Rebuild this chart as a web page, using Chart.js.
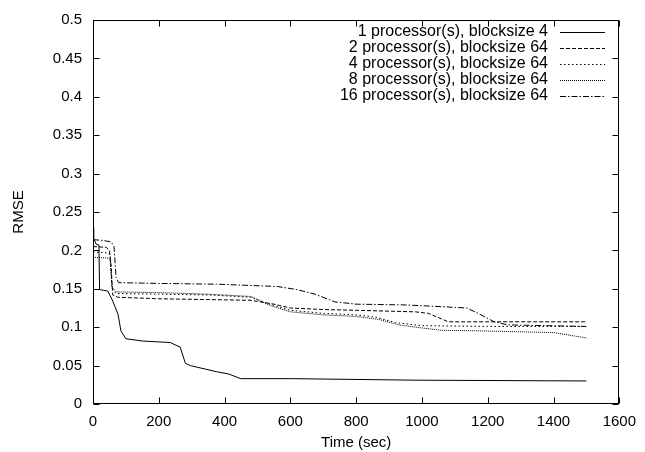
<!DOCTYPE html>
<html>
<head>
<meta charset="utf-8">
<script src="https://cdn.jsdelivr.net/npm/chart.js@4/dist/chart.umd.min.js"></script>
<style>
    html, body { margin: 0; padding: 0; background: #fff; }
    canvas { display: block; }
</style>
</head>
<body>
<canvas id="rmseChart" width="645" height="452"></canvas>
<script>
const seriesNames = [
    '1 processor(s), blocksize 4',
    '2 processor(s), blocksize 64',
    '4 processor(s), blocksize 64',
    '8 processor(s), blocksize 64',
    '16 processor(s), blocksize 64'
];

const time1 = [0, 2, 10, 18, 20, 45, 60, 76, 85, 100, 150, 235, 265, 281, 296, 376, 413, 449, 600, 985, 1500];
const rmse1 = [0.230, 0.215, 0.208, 0.207, 0.149, 0.147, 0.134, 0.117, 0.095, 0.085, 0.082, 0.080, 0.074, 0.053, 0.050, 0.042, 0.039, 0.033, 0.033, 0.031, 0.030];

const time2 = [0, 40, 50, 55, 60, 75, 200, 350, 480, 550, 600, 700, 800, 980, 1020, 1080, 1500];
const rmse2 = [0.205, 0.204, 0.200, 0.180, 0.142, 0.139, 0.137, 0.136, 0.135, 0.130, 0.125, 0.123, 0.122, 0.120, 0.118, 0.107, 0.107];

const time3 = [0, 40, 52, 58, 70, 200, 350, 480, 530, 600, 700, 800, 860, 920, 1000, 1200, 1500];
const rmse3 = [0.198, 0.197, 0.195, 0.150, 0.144, 0.143, 0.142, 0.139, 0.131, 0.122, 0.118, 0.116, 0.113, 0.106, 0.102, 0.101, 0.101];

const time4 = [0, 45, 52, 58, 70, 200, 350, 480, 540, 600, 700, 800, 870, 930, 1000, 1060, 1200, 1400, 1500];
const rmse4 = [0.191, 0.190, 0.188, 0.152, 0.146, 0.145, 0.143, 0.140, 0.128, 0.120, 0.116, 0.114, 0.110, 0.103, 0.099, 0.096, 0.095, 0.093, 0.086];

const time5 = [0, 30, 55, 64, 70, 78, 200, 376, 560, 620, 675, 735, 800, 950, 1000, 1136, 1166, 1220, 1260, 1500];
const rmse5 = [0.214, 0.213, 0.211, 0.205, 0.165, 0.158, 0.157, 0.156, 0.153, 0.149, 0.143, 0.133, 0.130, 0.129, 0.128, 0.125, 0.119, 0.107, 0.103, 0.101];

const xTicks = [0, 200, 400, 600, 800, 1000, 1200, 1400, 1600];
const yTicks = [0, 0.05, 0.1, 0.15, 0.2, 0.25, 0.3, 0.35, 0.4, 0.45, 0.5];

const FONT = 'Liberation Sans';
const dashes = [[], [4, 2], [1.5, 2.5], [1, 1], [6, 2, 1.5, 2]];

function points(ts, vs) {
    return ts.map((t, i) => ({ x: t, y: vs[i] }));
}

const allSeries = [[time1, rmse1], [time2, rmse2], [time3, rmse3], [time4, rmse4], [time5, rmse5]];

// gnuplot-style frame: full border box, inward ticks mirrored on all sides, key at top right
const framePlugin = {
    id: 'frame',
    afterDatasetsDraw(chart) {
        const { ctx, chartArea: a, scales: { x, y } } = chart;
        const L = Math.round(a.left) + 0.5, R = Math.round(a.right) - 0.5;
        const T = Math.round(a.top) + 0.5, B = Math.round(a.bottom) - 0.5;
        const len = 6;
        ctx.save();
        ctx.strokeStyle = '#000';
        ctx.lineWidth = 1;
        ctx.setLineDash([]);
        ctx.strokeRect(L, T, R - L, B - T);
        ctx.beginPath();
        xTicks.forEach(v => {
            const px = Math.round(x.getPixelForValue(v)) + 0.5;
            ctx.moveTo(px, B); ctx.lineTo(px, B - len);
            ctx.moveTo(px, T); ctx.lineTo(px, T + len);
        });
        yTicks.forEach(v => {
            const py = Math.round(y.getPixelForValue(v)) + 0.5;
            ctx.moveTo(L, py); ctx.lineTo(L + len, py);
            ctx.moveTo(R, py); ctx.lineTo(R - len, py);
        });
        ctx.stroke();

        // key
        ctx.font = '16px "' + FONT + '"';
        ctx.fillStyle = '#000';
        ctx.textAlign = 'right';
        ctx.textBaseline = 'middle';
        chart.data.datasets.forEach((ds, i) => {
            const rowY = 32 + i * 16;
            ctx.fillText(ds.label, 548, rowY);
            ctx.beginPath();
            ctx.setLineDash(ds.borderDash);
            ctx.moveTo(560, rowY + 0.5);
            ctx.lineTo(605, rowY + 0.5);
            ctx.stroke();
        });
        ctx.restore();
    }
};

const chart = new Chart(document.getElementById('rmseChart').getContext('2d'), {
    type: 'line',
    data: {
        datasets: allSeries.map(([ts, vs], i) => ({
            label: seriesNames[i],
            data: points(ts, vs),
            borderColor: '#000',
            borderWidth: 1,
            borderDash: dashes[i],
            pointRadius: 0,
            tension: 0,
            fill: false
        }))
    },
    options: {
        responsive: false,
        animation: false,
        layout: { padding: { top: 16, right: 21, left: 0, bottom: 0 } },
        plugins: { legend: { display: false }, tooltip: { enabled: false } },
        scales: {
            x: {
                type: 'linear',
                min: 0,
                max: 1600,
                afterFit: s => { s.height = 48; },
                afterBuildTicks: s => { s.ticks = xTicks.map(v => ({ value: v })); },
                grid: { display: false, drawTicks: false },
                border: { display: false },
                ticks: {
                    color: '#000',
                    padding: 9,
                    maxRotation: 0,
                    font: { family: FONT, size: 15 },
                    callback: v => String(v)
                },
                title: { display: true, text: 'Time (sec)', color: '#000', padding: { top: 0, bottom: 0 }, font: { family: FONT, size: 15 } }
            },
            y: {
                type: 'linear',
                min: 0,
                max: 0.5,
                afterFit: s => { s.width = 93; },
                afterBuildTicks: s => { s.ticks = yTicks.map(v => ({ value: v })); },
                grid: { display: false, drawTicks: false },
                border: { display: false },
                ticks: {
                    color: '#000',
                    padding: 11,
                    font: { family: FONT, size: 15 },
                    callback: v => String(+v.toFixed(2))
                },
                title: { display: true, text: 'RMSE', color: '#000', padding: { top: 10, bottom: 0 }, font: { family: FONT, size: 15 } }
            }
        }
    },
    plugins: [framePlugin]
});
</script>
</body>
</html>
